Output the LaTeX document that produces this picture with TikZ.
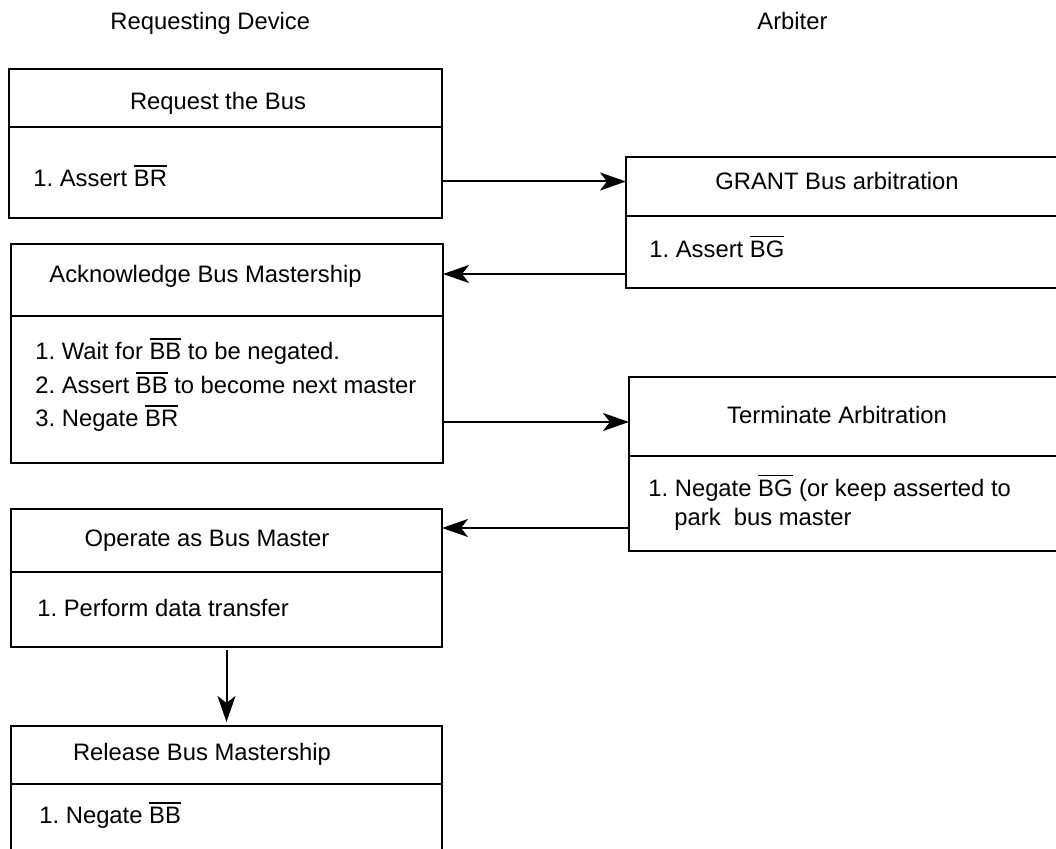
\documentclass[tikz,border=0pt]{standalone}
\usepackage{fontspec}
\setmainfont{Liberation Sans}
\usetikzlibrary{arrows.meta,calc}
\newcommand{\sigbar}[1]{\vbox{\hrule height 0.8pt\kern 2pt\hbox{#1}}}
\frenchspacing

\begin{document}
\begin{tikzpicture}[
    x=0.5pt, y=-0.5pt,
    >=Stealth,
    hd/.style={rectangle, draw, line width=1.2pt, inner sep=0pt, outer sep=0pt, anchor=north west},
    ttl/.style={inner sep=0pt, anchor=base, font=\fontsize{11.9}{14}\selectfont},
    itm/.style={ttl, anchor=base west},
    arr/.style={-{Stealth[length=13pt, width=9pt, inset=3.5pt]}, line width=1pt}
  ]
    \useasboundingbox (0,0) rectangle (1056,849);
    \clip (0,0) rectangle (1056,849);

    %--- column heads ---
    \node[itm] (reqhead) at (110,30) {Requesting Device};
    \node[itm] (arbhead) at (757,30) {Arbiter};

    %--- Requesting device (left column) ---
    \node[hd, minimum width=216.5pt, minimum height=29pt] (reqtop) at (9,69) {};
    \node[hd, minimum width=216.5pt, minimum height=45.5pt] (reqbody) at (reqtop.south west) {};
    \node[ttl] (reqttl) at (218,110) {Request the Bus};
    \node[itm] (req1) at (33,187) {1. Assert \sigbar{BR}};

    \node[hd, minimum width=216pt, minimum height=36pt] (acktop) at (11,244) {};
    \node[hd, minimum width=216pt, minimum height=73.5pt] (ackbody) at (acktop.south west) {};
    \node[itm] (ackttl) at (49,283) {Acknowledge Bus Mastership};
    \node[itm] (ack1) at (35,360) {1. Wait for \sigbar{BB} to be negated.};
    \node[itm] (ack2) at (35,394) {2. Assert \sigbar{BB} to become next master};
    \node[itm] (ack3) at (35,427) {3. Negate \sigbar{BR}};

    \node[hd, minimum width=215.5pt, minimum height=31.5pt] (optop) at (11,509) {};
    \node[hd, minimum width=215.5pt, minimum height=37.5pt] (opbody) at (optop.south west) {};
    \node[ttl] (opttl) at (207,547) {Operate as Bus Master};
    \node[itm] (op1) at (37,617) {1. Perform data transfer};

    \node[hd, minimum width=215.5pt, minimum height=29pt] (reltop) at (11,726) {};
    \node[hd, minimum width=215.5pt, minimum height=40pt] (relbody) at (reltop.south west) {};
    \node[ttl] (relttl) at (202,761) {Release Bus Mastership};
    \node[itm] (rel1) at (39,824) {1. Negate \sigbar{BB}};

    %--- Arbiter (right column) ---
    \node[hd, minimum width=230pt, minimum height=29.5pt] (gnttop) at (626,157) {};
    \node[hd, minimum width=230pt, minimum height=36pt] (gntbody) at (gnttop.south west) {};
    \node[ttl] (gntttl) at (837,190) {GRANT Bus arbitration};
    \node[itm] (gnt1) at (649,258) {1. Assert \sigbar{BG}};

    \node[hd, minimum width=230pt, minimum height=39.5pt] (trmtop) at (629,377) {};
    \node[hd, minimum width=230pt, minimum height=47.5pt] (trmbody) at (trmtop.south west) {};
    \node[ttl] (trmttl) at (837,424) {Terminate Arbitration};
    \node[itm] (trm1) at (648,497) {1. Negate \sigbar{BG} (or keep asserted to};
    \node[itm] (trm2) at (674,526) {park\ \ bus master};

    %--- handshake arrows ---
    \draw[arr] (reqbody.east |- gntttl) -- (gnttop.west |- gntttl);
    \coordinate (bgout) at ([yshift=7pt]gntbody.south west);
    \draw[arr] (bgout) -- (acktop.east |- bgout);
    \coordinate (brin) at ([yshift=-2.75pt]trmtop.west);
    \draw[arr] (ackbody.east |- brin) -- (brin);
    \coordinate (bgrel) at ([yshift=11.5pt]trmbody.south west);
    \draw[arr] (bgrel) -- (optop.east |- bgrel);
    \draw[arr, shorten <=1.5pt, shorten >=2pt] (opbody) -- (reltop);
\end{tikzpicture}
\end{document}
